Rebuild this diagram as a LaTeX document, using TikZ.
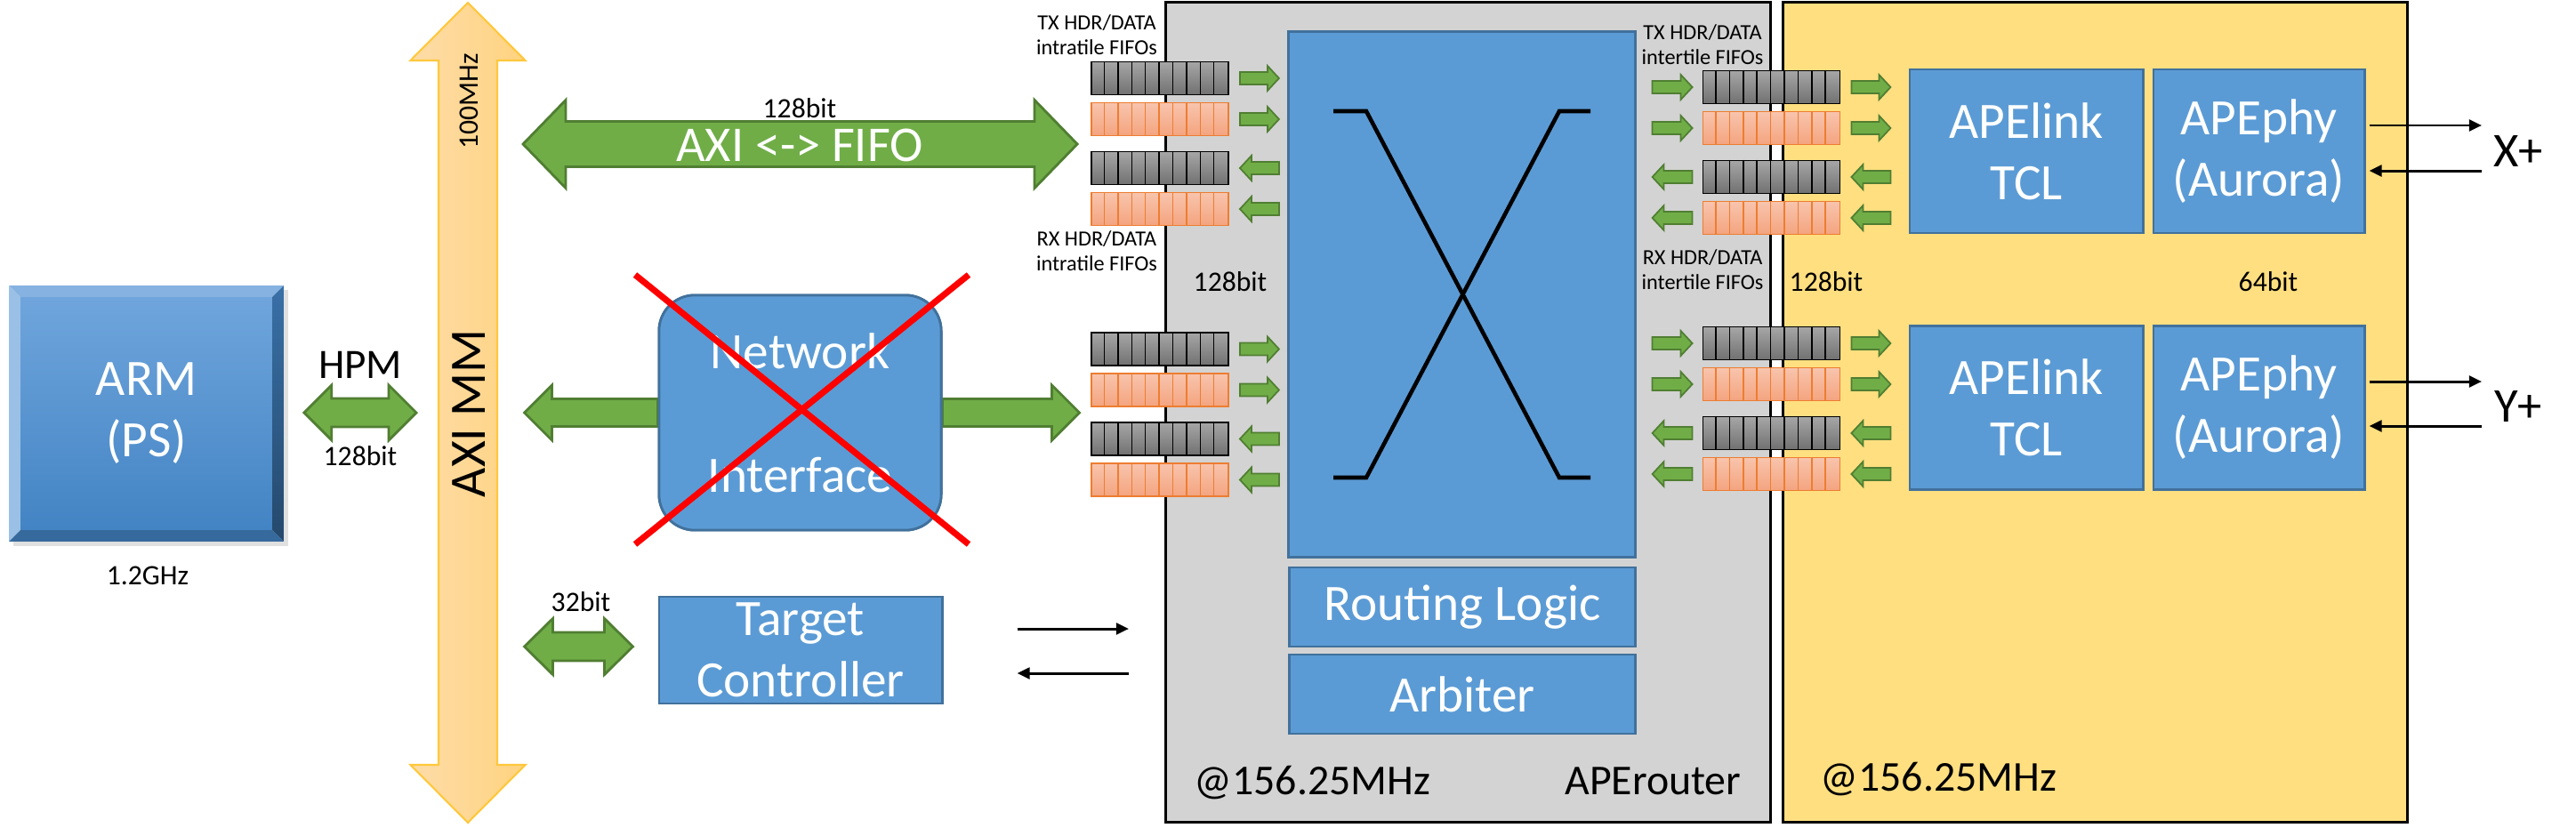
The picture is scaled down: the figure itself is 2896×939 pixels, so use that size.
\documentclass[tikz,border=0pt]{standalone}
\usepackage{fontspec}
\setmainfont{Carlito}
\usetikzlibrary{calc, arrows.meta}

\definecolor{boxblue}{HTML}{5B9BD5}
\definecolor{boxline}{HTML}{41719C}
\definecolor{busgreen}{HTML}{70AD47}
\definecolor{busline}{HTML}{507E32}
\definecolor{routergray}{HTML}{D3D3D3}
\definecolor{linkyellow}{HTML}{FFDF80}
\definecolor{axileft}{HTML}{FDDCA8}
\definecolor{axiright}{HTML}{FFD380}
\definecolor{axiline}{HTML}{FFC83C}
\definecolor{fifogtop}{HTML}{A6A6A6}
\definecolor{fifogbot}{HTML}{717171}
\definecolor{fifootop}{HTML}{F8C4AD}
\definecolor{fifoobot}{HTML}{F4A47F}
\definecolor{fifooline}{HTML}{ED7D31}
\definecolor{armtop}{HTML}{6FA5DC}
\definecolor{armbot}{HTML}{4384C4}

\newcommand\bigfont{\fontsize{16.3pt}{19.6pt}\selectfont}
\newcommand\axifont{\fontsize{16pt}{19pt}\selectfont}
\newcommand\hpmfont{\fontsize{13.4pt}{16pt}\selectfont}
\newcommand\bitfont{\fontsize{9pt}{10.8pt}\selectfont}
\newcommand\fifofont{\fontsize{6.9pt}{8pt}\selectfont}
\newcommand\clockfont{\fontsize{13.6pt}{16pt}\selectfont}
\newcommand\portfont{\fontsize{15.5pt}{18pt}\selectfont}

% block arrow, heads at both ends: [style]{from}{to}{shaft half}{head half}{head length}
\newcommand\dblbus[6][bus]{%
  \path[#1] let \p1=(#2), \p2=(#3), \n1={sign(\x2-\x1)} in
    (\x1,\y1) -- ({\x1+\n1*#6},\y1+#5) -- ({\x1+\n1*#6},\y1+#4)
    -- ({\x2-\n1*#6},\y1+#4) -- ({\x2-\n1*#6},\y1+#5) -- (\x2,\y1)
    -- ({\x2-\n1*#6},\y1-#5) -- ({\x2-\n1*#6},\y1-#4)
    -- ({\x1+\n1*#6},\y1-#4) -- ({\x1+\n1*#6},\y1-#5) -- cycle;}
% block arrow, head at the 'to' end
\newcommand\onebus[6][bus]{%
  \path[#1] let \p1=(#2), \p2=(#3), \n1={sign(\x2-\x1)} in
    (\x1,\y1+#4) -- ({\x2-\n1*#6},\y1+#4) -- ({\x2-\n1*#6},\y1+#5) -- (\x2,\y1)
    -- ({\x2-\n1*#6},\y1-#5) -- ({\x2-\n1*#6},\y1-#4) -- (\x1,\y1-#4) -- cycle;}

\tikzset{
  bluebox/.style={draw=boxline, fill=boxblue, line width=0.8pt, inner sep=0pt,
    text=white, font=\bigfont, align=center},
  bus/.style={fill=busgreen, draw=busline, line width=0.8pt},
  smallbus/.style={fill=busgreen, draw=busline, line width=0.5pt},
  fifo/.style={minimum width=1.54cm, minimum height=0.37cm, inner sep=0pt, line width=0.5pt},
  sig/.style={line width=0.85pt, -{Triangle[length=4pt, width=3.6pt]}},
  bitlabel/.style={font=\bitfont, inner sep=0pt},
  fifolabel/.style={font=\fifofont, align=center, inner sep=0pt},
  clocklabel/.style={font=\clockfont, inner sep=0pt},
}

\begin{document}
\begin{tikzpicture}[x=0.01cm, y=-0.01cm]
  \fill[white] (0,0) rectangle (2896,939);
  \useasboundingbox (0,0) rectangle (2896,939);

  % clock domains
  \node[draw, line width=0.8pt, fill=routergray, minimum width=6.79cm, minimum height=9.21cm,
    inner sep=0pt] (router) at (1650.5,463.5) {};
  \node[draw, line width=0.8pt, fill=linkyellow, minimum width=7.01cm, minimum height=9.21cm,
    inner sep=0pt] (linkarea) at (2355.5,463.5) {};
  \node[clocklabel, anchor=west] (rclk) at (1342,880) {@156.25MHz};
  \node[clocklabel, anchor=east] (rname) at (1958,878) {APErouter};
  \node[clocklabel, anchor=west] (lclk) at (2046,876) {@156.25MHz};

  % ARM processing system (bevelled block)
  \node[minimum width=3.07cm, minimum height=2.86cm, inner sep=0pt] (arm) at (164.5,465) {};
  \fill[black!12] ($(arm.north west)+(5,5)$) rectangle ($(arm.south east)+(5,5)$);
  \fill[fill=armtop!85!white] (arm.north west) -- (arm.north east) -- ($(arm.north east)+(-13,13)$)
    -- ($(arm.north west)+(13,13)$) -- cycle;
  \fill[fill=armtop!70!white] (arm.north west) -- ($(arm.north west)+(13,13)$)
    -- ($(arm.south west)+(13,-13)$) -- (arm.south west) -- cycle;
  \shade[top color=armbot!85!black, bottom color=armbot!55!black] (arm.north east)
    -- ($(arm.north east)+(-13,13)$) -- ($(arm.south east)+(-13,-13)$) -- (arm.south east) -- cycle;
  \fill[fill=armbot!80!black] (arm.south west) -- (arm.south east) -- ($(arm.south east)+(-13,-13)$)
    -- ($(arm.south west)+(13,-13)$) -- cycle;
  \shade[top color=armtop, bottom color=armbot] ($(arm.north west)+(13,13)$)
    rectangle ($(arm.south east)+(-13,-13)$);
  \node[text=white, font=\bigfont, align=center, inner sep=0pt] (armlabel) at (arm.center) {ARM\\(PS)};
  \node[bitlabel] (armclk) at (166,647) {1.2GHz};

  % AXI MM bus
  \coordinate (bar) at (526,464);
  \path[left color=axileft, right color=axiright, draw=axiline, line width=0.6pt]
    (526,3) -- (590.5,68) -- (559,68) -- (559,860) -- (590.5,860) -- (526,925)
    -- (461.5,860) -- (493,860) -- (493,68) -- (461.5,68) -- cycle;
  \node[rotate=90, font=\bigfont, inner sep=0pt] (axibus) at (527,465) {AXI MM};
  \node[rotate=90, bitlabel] (axiclk) at (527,114) {100MHz};

  % HPM port
  \dblbus{$(arm.east)+(23,-1)$}{$(bar)+(-58,0)$}{0.16cm}{0.31cm}{0.31cm}
  \node[font=\hpmfont, inner sep=0pt] (hpm) at (405,410) {HPM};
  \node[bitlabel] (hpmbits) at (405,513) {128bit};

  % intratile and intertile FIFOs
  \foreach \grp/\fx/\fy in {ua/1304/88, la/1304/392.5, ue/1991.5/98, le/1991.5/386} {
    \foreach \row/\dy/\tc/\bc/\lc in {1/0/fifogtop/fifogbot/black, 2/46/fifootop/fifoobot/fifooline,
        3/101/fifogtop/fifogbot/black, 4/147/fifootop/fifoobot/fifooline} {
      \node[fifo, draw=\lc, top color=\tc, bottom color=\bc] (\grp\row) at (\fx,\fy+\dy) {};
      \foreach \k in {1,...,9}
        \draw[draw=\lc, line width=0.4pt] ($(\grp\row.north west)+(\k*15.4,0)$)
          -- ($(\grp\row.south west)+(\k*15.4,0)$);
    }
  }
  \node[fifolabel] (txintra) at (1233,39) {TX HDR/DATA\\intratile FIFOs};
  \node[fifolabel] (rxintra) at (1233,282) {RX HDR/DATA\\intratile FIFOs};
  \node[fifolabel] (txinter) at (1914,50) {TX HDR/DATA\\intertile FIFOs};
  \node[fifolabel] (rxinter) at (1914,303) {RX HDR/DATA\\intertile FIFOs};

  % AXI <-> FIFO bridge
  \dblbus{$(bar)+(62,-302)$}{$(ua1.west)+(-15,74)$}{0.255cm}{0.495cm}{0.48cm}
  \node[text=white, font=\axifont, inner sep=0pt] (axififo) at (899,163) {AXI <-> FIFO};
  \node[bitlabel] (axibits) at (899,122) {128bit};

  % network interface (removed)
  \node[bluebox, rounded corners=0.4cm, minimum width=3.17cm, minimum height=2.64cm]
    (ni) at (899.5,464) {};
  \onebus{ni.west}{$(ni.west)+(-150,0)$}{0.155cm}{0.31cm}{0.31cm}
  \onebus{ni.east}{$(ni.east)+(154,0)$}{0.155cm}{0.31cm}{0.31cm}
  \node[bluebox, rounded corners=0.4cm, minimum width=3.17cm, minimum height=2.64cm]
    (nibox) at (899.5,464) {Network\\[20pt]Interface};
  \draw[red, line width=2pt] ($(ni.center)+(-185.5,-155)$) -- ($(ni.center)+(189.5,148)$);
  \draw[red, line width=2pt] ($(ni.center)+(189.5,-155)$) -- ($(ni.center)+(-185.5,148)$);

  % target controller
  \node[bluebox, minimum width=3.18cm, minimum height=1.20cm] (tc) at (900,731) {Target\\Controller};
  \dblbus{$(tc.west)+(-150,-4)$}{$(tc.west)+(-28,-4)$}{0.16cm}{0.315cm}{0.32cm}
  \node[bitlabel] (tcbits) at (653,677) {32bit};
  \coordinate (tcout) at (1269,707);
  \coordinate (tcin) at (1269,757);
  \draw[sig] ($(tc.east)+(83,-24)$) -- (tcout);
  \draw[sig] (tcin) -- ($(tc.east)+(83,26)$);

  % switch, routing logic, arbiter
  \node[bluebox, minimum width=3.89cm, minimum height=5.90cm] (xbar) at (1643.5,331) {};
  \draw[line width=1.3pt] (1499,125) -- (1536,125) -- (1753,537) -- (1788,537);
  \draw[line width=1.3pt] (1499,537) -- (1536,537) -- (1753,125) -- (1788,125);
  \node[bluebox, minimum width=3.89cm, minimum height=0.89cm] (route) at (1644,682.5) {Routing Logic};
  \node[bluebox, minimum width=3.89cm, minimum height=0.89cm] (arbiter) at (1644,780.5) {Arbiter};
  \node[bitlabel] (xbarbits) at (1383,317) {128bit};

  % FIFO arrows
  \foreach \grp in {ua,la} {
    \foreach \row in {1,2} {
      \onebus[smallbus]{$(\grp\row.east)+(12,0)$}{$(\grp\row.east)+(56,0)$}{0.07cm}{0.14cm}{0.13cm}
    }
    \foreach \row in {3,4} {
      \onebus[smallbus]{$(\grp\row.east)+(56,0)$}{$(\grp\row.east)+(12,0)$}{0.07cm}{0.14cm}{0.13cm}
    }
  }
  \foreach \grp in {ue,le} {
    \foreach \row in {1,2} {
      \onebus[smallbus]{$(\grp\row.west)+(-56,0)$}{$(\grp\row.west)+(-11,0)$}{0.07cm}{0.14cm}{0.13cm}
      \onebus[smallbus]{$(\grp\row.east)+(12,0)$}{$(\grp\row.east)+(56,0)$}{0.07cm}{0.14cm}{0.13cm}
    }
    \foreach \row in {3,4} {
      \onebus[smallbus]{$(\grp\row.west)+(-11,0)$}{$(\grp\row.west)+(-56,0)$}{0.07cm}{0.14cm}{0.13cm}
      \onebus[smallbus]{$(\grp\row.east)+(56,0)$}{$(\grp\row.east)+(12,0)$}{0.07cm}{0.14cm}{0.13cm}
    }
  }

  % APElink / APEphy channels
  \node[bluebox, minimum width=2.62cm, minimum height=1.84cm] (linkx) at (2278,170) {APElink\\TCL};
  \node[bluebox, minimum width=2.37cm, minimum height=1.84cm] (phyx) at (2539.5,170) {APEphy\\(Aurora)};
  \node[bluebox, minimum width=2.62cm, minimum height=1.84cm] (linky) at (2278,458.5) {APElink\\TCL};
  \node[bluebox, minimum width=2.37cm, minimum height=1.84cm] (phyy) at (2539.5,458.5) {APEphy\\(Aurora)};
  \node[bitlabel] (linkbits) at (2053,317) {128bit};
  \node[bitlabel] (phybits) at (2550,317) {64bit};

  % torus ports
  \coordinate (xout) at (2790,141);
  \coordinate (xin) at (2790,192);
  \draw[sig] ($(phyx.east)+(4,-29)$) -- (xout);
  \draw[sig] (xin) -- ($(phyx.east)+(4,22)$);
  \node[font=\portfont, inner sep=0pt] (xport) at (2831,170) {X+};
  \coordinate (yout) at (2790,429);
  \coordinate (yin) at (2790,479);
  \draw[sig] ($(phyy.east)+(4,-29.5)$) -- (yout);
  \draw[sig] (yin) -- ($(phyy.east)+(4,20.5)$);
  \node[font=\portfont, inner sep=0pt] (yport) at (2831,457) {Y+};
\end{tikzpicture}
\end{document}
